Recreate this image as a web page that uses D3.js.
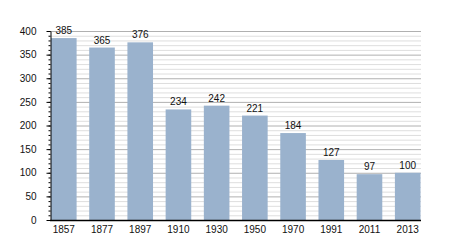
<!DOCTYPE html>
<html>
<head>
<meta charset="utf-8">
<script src="https://cdn.jsdelivr.net/npm/d3@7"></script>
<style>
  body { margin: 0; background: #fff; }
  text { font-family: "Liberation Sans", Arial, sans-serif; font-size: 10px; fill: #111; }
</style>
</head>
<body>
<div id="chart"></div>
<script>
const years = ["1857", "1877", "1897", "1910", "1930", "1950", "1970", "1991", "2011", "2013"];
const population = [385, 365, 376, 234, 242, 221, 184, 127, 97, 100];
const yTicks = [0, 50, 100, 150, 200, 250, 300, 350, 400];

const W = 450, H = 250;
const plotLeft = 50, plotRight = 421, plotTop = 31, plotBottom = 220;

const svg = d3.select("#chart")
    .append("svg")
    .attr("width", W)
    .attr("height", H);

const x = d3.scaleBand()
    .domain(years)
    .range([51, 420.5])
    .paddingInner(0.33)
    .paddingOuter(0);

const y = d3.scaleLinear()
    .domain([0, 400])
    .range([plotBottom, plotTop]);

// minor grid every 10
const minor = d3.range(10, 400, 10).filter(v => v % 50 !== 0);
svg.append("g")
    .selectAll("line")
    .data(minor)
    .enter()
    .append("line")
    .attr("x1", plotLeft).attr("x2", plotRight)
    .attr("y1", d => y(d) + 0.5).attr("y2", d => y(d) + 0.5)
    .style("stroke", "#dedede");

// major grid
svg.append("g")
    .selectAll("line")
    .data(yTicks.slice(1))
    .enter()
    .append("line")
    .attr("x1", plotLeft).attr("x2", plotRight)
    .attr("y1", d => y(d) + 0.5).attr("y2", d => y(d) + 0.5)
    .style("stroke", "#b0b0b0");

// bars
svg.selectAll("rect.bar")
    .data(population)
    .enter()
    .append("rect")
    .attr("class", "bar")
    .attr("x", (d, i) => x(years[i]))
    .attr("width", x.bandwidth())
    .attr("y", d => y(d))
    .attr("height", d => y(0) - y(d))
    .style("fill", "#9ab2cd");

// value labels
svg.selectAll("text.val")
    .data(population)
    .enter()
    .append("text")
    .attr("class", "val")
    .attr("x", (d, i) => x(years[i]) + x.bandwidth() / 2)
    .attr("y", d => y(d) - 4)
    .attr("text-anchor", "middle")
    .text(d => d);

// Y axis with minor ticks
svg.append("g")
    .attr("transform", "translate(" + (plotLeft + 0.5) + ",0)")
    .call(d3.axisLeft(y).tickValues(d3.range(0, 401, 10)).tickSize(2).tickFormat(""))
    .call(g => g.select(".domain").remove());

const yAxis = svg.append("g")
    .attr("transform", "translate(" + (plotLeft + 0.5) + ",0)")
    .call(d3.axisLeft(y).tickValues(yTicks).tickSize(4).tickPadding(10).tickSizeOuter(0));
yAxis.selectAll("text").style("font-size", "10px");

// X axis
const xAxis = svg.append("g")
    .attr("transform", "translate(0," + (plotBottom + 0.5) + ")")
    .call(d3.axisBottom(x).tickSize(0).tickPadding(5).tickSizeOuter(0));
xAxis.select(".domain").attr("d", "M" + plotLeft + ",0H" + plotRight).style("stroke-width", 1.3);
xAxis.selectAll("text").style("font-size", "10px");
</script>
</body>
</html>
